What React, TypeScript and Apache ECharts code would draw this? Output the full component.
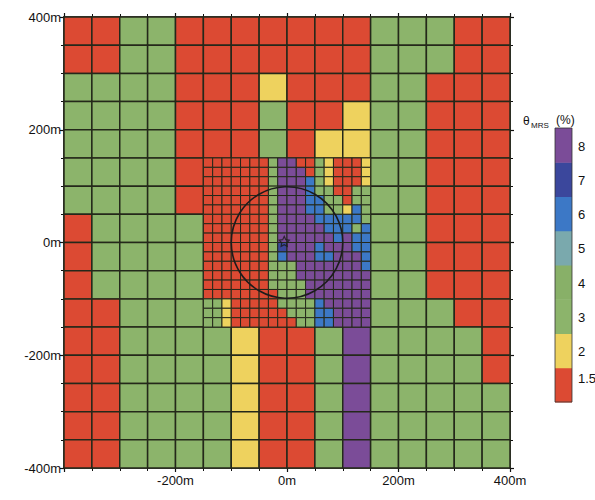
import React, { useEffect, useRef } from "react";
import * as echarts from "echarts";

// ---- data ----
// legend levels (θ_MRS %), bottom to top
const levelValues = [1.5, 2, 3, 4, 5, 6, 7, 8];
const levelLabels = ["1.5", "2", "3", "4", "5", "6", "7", "8"];
const levelColors = ["#dc4a33", "#eed25e", "#8cb46b", "#88b068", "#7aa9ad", "#3c78c6", "#3b479c", "#7b4c98"];
// letter codes used in the grids below
const codeValues: Record<string, number> = { R: 1.5, Y: 2, G: 3, H: 4, T: 5, B: 6, D: 7, P: 8 };

// coarse 50 m cells, x from -400 to 400 (16 columns), rows from y=400 downward; F = refined zone
const coarseRows = [
  "RRGGRRRRRRRGGGRR",
  "RRGGRRRRRRRGGGRR",
  "GGGGRRRYRRRGGRRR",
  "GGGGRRRGRRYGGRRR",
  "GGGGRRRGRYYGGRRR",
  "GGGGRFFFFFFGGRRR",
  "GGGGRFFFFFFGGRRR",
  "RGGGGFFFFFFGGRRR",
  "RGGGGFFFFFFGGRRR",
  "RGGGGFFFFFFGGRRR",
  "RRGGGFFFFFFGGGRR",
  "RRGGGGYRRGPGGGGR",
  "RRGGGGYRRGPGGGGR",
  "RRGGGGYRRGPGGGGG",
  "RRGGGGYRRGPGGGGG",
  "RRGGGGYRRGPGGGGG",
];
// refined zone: x -150..150, y 150..-150, 18 x 18 cells
const fineRows = [
  "RRRRRRRGPPRRGYRRRY",
  "RRRRRRRGPPPRGYRRRY",
  "RRRRRRRGPPPBGYRRRY",
  "RRRRRRRGPPPBGGRRGG",
  "RRRRRRRGPPPBBGGRGG",
  "RRRRRRRGPPPBBGGYBG",
  "RRRRRRRGPPPPBBBBBG",
  "RRRRRRRGPPPPPBBBGB",
  "RRRRRRRGPPPPPPBPBB",
  "RRRRRRRGDPPPBPPPBB",
  "RRRRRRRGBPPPBBPPPB",
  "RRRRRRRGGGPPPPPPPB",
  "RRRRRRRGGGPPPPPPPP",
  "RRRRRRRGGGGPPPPPPP",
  "RRRRRRRRGGGPPPPPPP",
  "GGYRRRRRGGGGBPPPPP",
  "GGYRRRRRRGGGBBPPPP",
  "GGYRRRRRRRGGBBPPPP",
];
const xTicks = [-400, -200, 0, 200, 400];
const yTicks = [-400, -200, 0, 200, 400];
const circle = { x: 0, y: 0, r: 100 };
const starPoint = [-5, 2];

function colorOf(v: number): string {
  const i = levelValues.indexOf(v);
  return i >= 0 ? levelColors[i] : "#888";
}

function buildCells() {
  const cells: number[][] = [];
  const cs = 50;
  coarseRows.forEach((row, r) => {
    row.split("").forEach((ch, c) => {
      if (ch === "F") return;
      const x0 = -400 + c * cs;
      const y0 = 400 - r * cs;
      cells.push([x0, y0, x0 + cs, y0 - cs, codeValues[ch], 0]);
    });
  });
  const fs = 300 / 18;
  fineRows.forEach((row, j) => {
    row.split("").forEach((ch, k) => {
      const x0 = -150 + k * fs;
      const y0 = 150 - j * fs;
      cells.push([x0, y0, x0 + fs, y0 - fs, codeValues[ch], 1]);
    });
  });
  return cells;
}

export default function App() {
  const ref = useRef<HTMLDivElement>(null);
  useEffect(() => {
    if (!ref.current) return;
    const chart = echarts.init(ref.current, null, { renderer: "svg" });
    const cells = buildCells();
    const font = "Liberation Sans, Arial, sans-serif";
    const axisCommon = {
      type: "value" as const,
      min: -400,
      max: 400,
      interval: 200,
      splitLine: { show: false },
      axisLine: { show: true, onZero: false, lineStyle: { color: "#111", width: 1.6 } },
      axisTick: { show: true, inside: false, length: 4, lineStyle: { color: "#111", width: 1.2 } },
      minorTick: { show: true, splitNumber: 4, length: 3, lineStyle: { color: "#111", width: 1 } },
    };

    // colorbar
    const cbX = 555, cbTop = 128, cbBottom = 402, cbW = 17;
    const segH = (cbBottom - cbTop) / levelValues.length;
    const graphics: any[] = [];
    levelValues.forEach((v, i) => {
      const yTop = cbBottom - (i + 1) * segH;
      graphics.push({
        type: "rect",
        shape: { x: cbX, y: yTop, width: cbW, height: segH + 0.5 },
        style: { fill: levelColors[i] },
      });
      graphics.push({
        type: "text",
        x: cbX + cbW + 6,
        y: yTop + segH / 2 + (i === 0 ? -6 : 1),
        style: { text: levelLabels[i], font: `13px ${font}`, fill: "#111", verticalAlign: "middle", align: "left" },
      });
    });
    graphics.push({
      type: "rect",
      shape: { x: cbX, y: cbTop, width: cbW, height: cbBottom - cbTop },
      style: { fill: "none", stroke: "#333", lineWidth: 0.8 },
    });
    graphics.push({ type: "text", x: 523, y: 121, style: { text: "θ", font: `12px ${font}`, fill: "#111", verticalAlign: "middle" } });
    graphics.push({ type: "text", x: 531, y: 125, style: { text: "MRS", font: `8px ${font}`, fill: "#111", verticalAlign: "middle" } });
    graphics.push({ type: "text", x: 556, y: 120, style: { text: "(%)", font: `12px ${font}`, fill: "#111", verticalAlign: "middle" } });

    chart.setOption({
      animation: false,
      backgroundColor: "#ffffff",
      grid: { left: 64, right: 85, top: 17, bottom: 32, containLabel: false },
      xAxis: [
        {
          ...axisCommon,
          position: "bottom",
          axisLabel: {
            show: true,
            margin: 6,
            fontSize: 13,
            fontFamily: font,
            color: "#111",
            formatter: (v: number) => (v === xTicks[0] ? "" : `${v}m`),
          },
        },
        { ...axisCommon, position: "top", axisLabel: { show: false } },
      ],
      yAxis: [
        {
          ...axisCommon,
          position: "left",
          axisLabel: {
            show: true,
            margin: 3,
            fontSize: 13,
            fontFamily: font,
            color: "#111",
            formatter: (v: number) => (yTicks.includes(v) ? `${v}m` : ""),
          },
        },
        { ...axisCommon, position: "right", axisLabel: { show: false } },
      ],
      series: [
        {
          type: "custom",
          xAxisIndex: 0,
          yAxisIndex: 0,
          data: cells,
          encode: { x: [0, 2], y: [1, 3] },
          renderItem: (_p: any, api: any) => {
            const p0 = api.coord([api.value(0), api.value(1)]);
            const p1 = api.coord([api.value(2), api.value(3)]);
            const fine = api.value(5) === 1;
            return {
              type: "rect",
              shape: {
                x: Math.min(p0[0], p1[0]),
                y: Math.min(p0[1], p1[1]),
                width: Math.abs(p1[0] - p0[0]),
                height: Math.abs(p1[1] - p0[1]),
              },
              style: { fill: colorOf(api.value(4)), stroke: "#24281a", lineWidth: fine ? 1 : 1.5 },
            };
          },
          z: 1,
        },
        {
          type: "custom",
          xAxisIndex: 0,
          yAxisIndex: 0,
          data: [[circle.x, circle.y, circle.r]],
          encode: { x: 0, y: 1 },
          renderItem: (_p: any, api: any) => {
            const c = api.coord([api.value(0), api.value(1)]);
            const e = api.coord([api.value(0) + api.value(2), api.value(1)]);
            return {
              type: "circle",
              shape: { cx: c[0], cy: c[1], r: Math.abs(e[0] - c[0]) },
              style: { fill: "none", stroke: "#1c1c1c", lineWidth: 1.6 },
            };
          },
          z: 2,
        },
        {
          type: "scatter",
          xAxisIndex: 0,
          yAxisIndex: 0,
          data: [starPoint],
          symbol: "path://M0,-10 L2.9,-4 L9.5,-3.1 L4.8,1.5 L5.9,8.1 L0,5 L-5.9,8.1 L-4.8,1.5 L-9.5,-3.1 L-2.9,-4 Z",
          symbolSize: 10,
          itemStyle: { color: "rgba(0,0,0,0)", borderColor: "#1a1a1a", borderWidth: 1.2 },
          z: 3,
        },
      ],
      graphic: graphics,
    });
    return () => chart.dispose();
  }, []);
  return <div ref={ref} style={{ position: "fixed", left: 0, top: 0, width: 595, height: 500 }} />;
}
